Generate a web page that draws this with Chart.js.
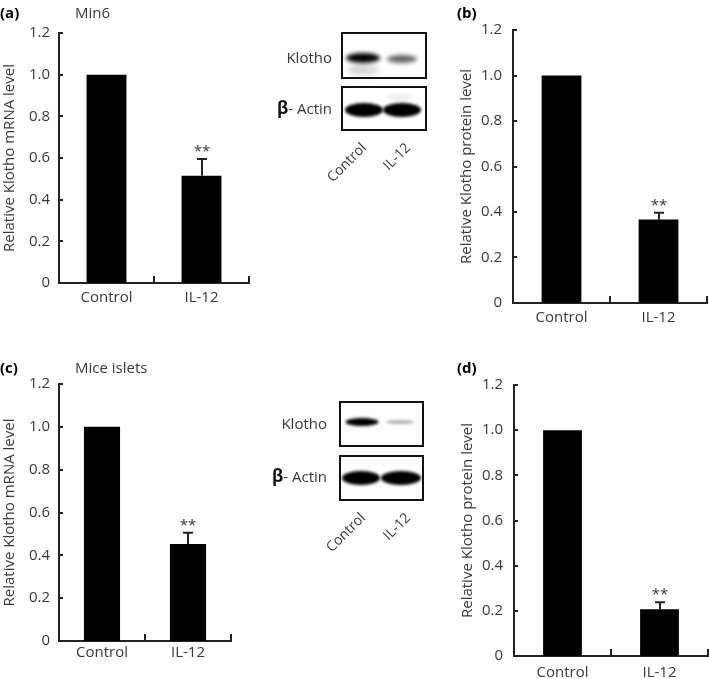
<!DOCTYPE html>
<html lang="en">
<head>
  <meta charset="UTF-8">
  <title>Klotho expression after IL-12</title>
  <style>
    body {
      margin: 0;
      width: 709px;
      height: 679px;
      overflow: hidden;
      background: #fff;
      font-family: "Open Sans", sans-serif;
      color: #383838;
      position: relative;
    }
    canvas { position: absolute; display: block; }
    .lbl { position: absolute; font-size: 15px; line-height: 16px; white-space: nowrap; }
    .tag { font-weight: bold; color: #000; }
    .lane { position: absolute; font-size: 14px; line-height: 16px; white-space: nowrap;
            transform-origin: 100% 50%; transform: rotate(-45deg); }
    .beta { font-weight: bold; font-size: 17px; color: #111; }
  </style>
</head>
<body>
<canvas id="chartA"></canvas>
<canvas id="chartB"></canvas>
<canvas id="chartC"></canvas>
<canvas id="chartD"></canvas>
<canvas id="blots" width="709" height="679" style="left:0;top:0;z-index:-1"></canvas>

<div class="lbl tag" style="left:0;top:4px">(a)</div>
<div class="lbl" style="left:75px;top:4px">Min6</div>
<div class="lbl tag" style="left:457px;top:4px">(b)</div>
<div class="lbl tag" style="left:0;top:359px">(c)</div>
<div class="lbl" style="left:75px;top:359px">Mice islets</div>
<div class="lbl tag" style="left:457px;top:359px">(d)</div>

<div class="lbl" style="right:377px;top:49px">Klotho</div>
<div class="lbl" style="right:377px;top:100px"><span class="beta">β</span>- Actin</div>
<div class="lane" style="right:346px;top:137px">Control</div>
<div class="lane" style="right:301px;top:137px">IL-12</div>

<div class="lbl" style="right:382px;top:415px">Klotho</div>
<div class="lbl" style="right:382px;top:468px"><span class="beta">β</span>- Actin</div>
<div class="lane" style="right:347px;top:507px">Control</div>
<div class="lane" style="right:301px;top:507px">IL-12</div>

<script src="https://cdn.jsdelivr.net/npm/chart.js"></script>
<script>
// datos
const categories = ['Control', 'IL-12'];
const yTicks = [0, 0.2, 0.4, 0.6, 0.8, 1.0, 1.2];

const mrnaMin6 = [1.0, 0.515];
const mrnaMin6Err = [0, 0.08];
const proteinMin6 = [1.0, 0.367];
const proteinMin6Err = [0, 0.03];
const mrnaIslets = [1.0, 0.453];
const mrnaIsletsErr = [0, 0.052];
const proteinIslets = [1.0, 0.207];
const proteinIsletsErr = [0, 0.031];
const stars = ['', '**'];

const INK = '#222';
const TXT = '#383838';
const FS = 15;         // tamaño de letra
const YW = 59;         // ancho del eje y
const XH = 30;         // alto del eje x

// ticks hacia dentro, barras de error y asteriscos
const panelPlugin = {
  id: 'panel',
  afterDatasetsDraw(chart) {
    const { ctx, chartArea } = chart;
    const x = chart.scales.x, y = chart.scales.y;
    const errs = chart.options.plugins.panel.errors;
    ctx.save();
    ctx.strokeStyle = INK;
    ctx.lineWidth = 2;
    ctx.beginPath();
    yTicks.forEach(v => {
      const py = Math.round(y.getPixelForValue(v));
      ctx.moveTo(chartArea.left, py);
      ctx.lineTo(chartArea.left + 4, py);
    });
    for (let i = 1; i <= categories.length; i++) {
      const px = Math.round(x.getPixelForValue(i - 0.5));
      ctx.moveTo(px, chartArea.bottom);
      ctx.lineTo(px, chartArea.bottom - 7);
    }
    ctx.stroke();

    const data = chart.data.datasets[0].data;
    ctx.font = FS + 'px "Open Sans", sans-serif';
    ctx.fillStyle = TXT;
    ctx.textAlign = 'center';
    ctx.textBaseline = 'alphabetic';
    data.forEach((v, i) => {
      const px = Math.round(x.getPixelForValue(i));
      const top = y.getPixelForValue(v + errs[i]);
      if (errs[i] > 0) {
        ctx.beginPath();
        ctx.moveTo(px, y.getPixelForValue(v));
        ctx.lineTo(px, top);
        ctx.moveTo(px - 5, top);
        ctx.lineTo(px + 5, top);
        ctx.stroke();
      }
      if (stars[i]) ctx.fillText(stars[i], px, top - 3);
    });
    ctx.restore();
  }
};

// area = zona del gráfico en la página {l, t, r, b}
function makePanel(id, values, errors, title, area, cfg) {
  const cv = document.getElementById(id);
  const left = area.l - YW;
  const top = area.t - (FS * 1.2 / 2 + cfg.yPad);
  cv.width = area.r + 2 - left;
  cv.height = area.b + XH - top;
  cv.style.left = left + 'px';
  cv.style.top = top + 'px';

  return new Chart(cv, {
    type: 'bar',
    data: {
      labels: categories,
      datasets: [{ data: values, backgroundColor: '#000', borderWidth: 0,
                   barPercentage: cfg.bar, categoryPercentage: 1 }]
    },
    options: {
      responsive: false,
      animation: false,
      layout: { padding: { top: 0, right: 2, left: 0, bottom: 0 } },
      plugins: {
        legend: { display: false },
        tooltip: { enabled: false },
        panel: { errors: errors }
      },
      scales: {
        x: {
          grid: { display: false, drawTicks: false },
          border: { display: true, color: INK, width: 2 },
          ticks: { color: TXT, padding: cfg.xPad, font: { family: 'Open Sans', size: FS } },
          afterFit: s => { s.height = XH; }
        },
        y: {
          min: 0,
          max: 1.2,
          grid: { display: false, drawTicks: false },
          border: { display: true, color: INK, width: 2 },
          afterBuildTicks: s => { s.ticks = yTicks.map(v => ({ value: v })); },
          ticks: {
            color: TXT,
            padding: cfg.yPad,
            font: { family: 'Open Sans', size: FS },
            callback: v => (v === 0 ? '0' : v.toFixed(1))
          },
          title: {
            display: true,
            text: title,
            color: TXT,
            padding: { top: cfg.tPad, bottom: 0 },
            font: { family: 'Open Sans', size: FS }
          },
          afterFit: s => { s.width = YW; }
        }
      }
    },
    plugins: [panelPlugin]
  });
}

makePanel('chartA', mrnaMin6, mrnaMin6Err, 'Relative Klotho mRNA level',
  { l: 59, t: 33, r: 249, b: 283 }, { xPad: 6, yPad: 9, tPad: 1, bar: 0.42 });
makePanel('chartB', proteinMin6, proteinMin6Err, 'Relative Klotho protein level',
  { l: 513, t: 30, r: 707, b: 303 }, { xPad: 6, yPad: 11, tPad: 4, bar: 0.41 });
makePanel('chartC', mrnaIslets, mrnaIsletsErr, 'Relative Klotho mRNA level',
  { l: 59, t: 384, r: 231, b: 641 }, { xPad: 3, yPad: 9, tPad: 1, bar: 0.42 });
makePanel('chartD', proteinIslets, proteinIsletsErr, 'Relative Klotho protein level',
  { l: 514, t: 385, r: 708, b: 656 }, { xPad: 8, yPad: 11, tPad: 4, bar: 0.40 });

// western blots (imagen, no datos)
const bc = document.getElementById('blots').getContext('2d');
function band(cx, cy, w, h, color, blur) {
  bc.save();
  bc.filter = 'blur(' + blur + 'px)';
  bc.fillStyle = color;
  bc.beginPath();
  bc.ellipse(cx, cy, w / 2, h / 2, 0, 0, Math.PI * 2);
  bc.fill();
  bc.restore();
}
function box(x0, y0, x1, y1) {
  bc.save();
  bc.strokeStyle = '#111';
  bc.lineWidth = 2;
  bc.strokeRect(x0, y0, x1 - x0, y1 - y0);
  bc.restore();
}
// Min6
band(363, 70, 32, 10, 'rgba(0,0,0,0.18)', 3);
band(363, 58, 34, 10, '#000', 2);
band(402, 59, 30, 8, 'rgba(0,0,0,0.6)', 2);
band(400, 97, 28, 6, 'rgba(0,0,0,0.08)', 2);
band(364, 110, 38, 14, '#000', 1.5);
band(402, 110, 38, 14, '#000', 1.5);
box(342, 33, 426, 78);
box(342, 87, 426, 130);
// Islotes
band(362, 422, 33, 8, '#000', 1.5);
band(400, 422, 28, 4, 'rgba(0,0,0,0.3)', 1.5);
band(361, 478, 38, 14, '#000', 1.5);
band(401, 478, 40, 14, '#000', 1.5);
box(340, 402, 423, 446);
box(340, 456, 423, 500);
</script>
</body>
</html>
